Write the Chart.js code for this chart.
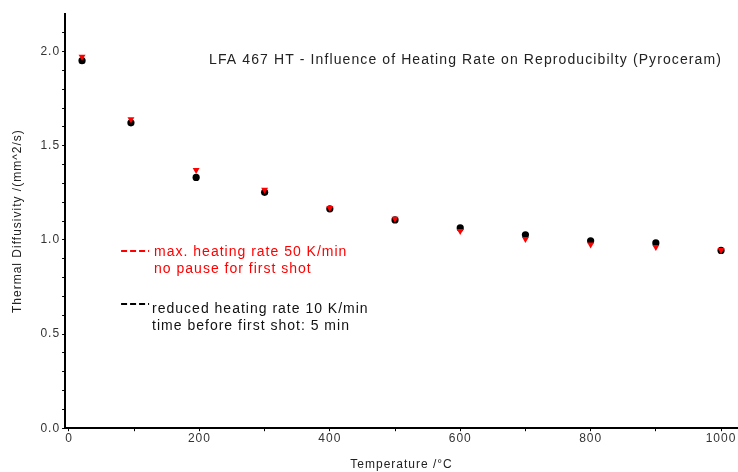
<!DOCTYPE html>
<html>
<head>
<meta charset="utf-8">
<script src="https://cdn.jsdelivr.net/npm/chart.js@4"></script>
<style>
  html, body { margin: 0; padding: 0; background: #fff; }
  #wrap { width: 738px; height: 472px; }
</style>
</head>
<body>
<div id="wrap"><canvas id="chart" width="738" height="472"></canvas></div>
<script>
// Temperature points /°C
const temps = [20, 95, 195, 300, 400, 500, 600, 700, 800, 900, 1000];
// max. heating rate 50 K/min, no pause for first shot
const fastRate = [1.973, 1.641, 1.372, 1.266, 1.170, 1.112, 1.048, 1.005, 0.976, 0.963, 0.947];
// reduced heating rate 10 K/min, 5 min before first shot
const slowRate = [1.952, 1.622, 1.332, 1.253, 1.165, 1.106, 1.064, 1.027, 0.995, 0.984, 0.944];

const xTicks = [0, 100, 200, 300, 400, 500, 600, 700, 800, 900, 1000];
const xLabels = [0, 200, 400, 600, 800, 1000];
const yTicks = [0, 0.1, 0.2, 0.3, 0.4, 0.5, 0.6, 0.7, 0.8, 0.9, 1.0, 1.1, 1.2, 1.3, 1.4, 1.5, 1.6, 1.7, 1.8, 1.9, 2.0, 2.1];
const yLabels = [0, 0.5, 1.0, 1.5, 2.0];

const titleText = 'LFA 467 HT - Influence of Heating Rate on Reproducibilty (Pyroceram)';
const legendItems = [
    { color: '#ff0000', lines: ['max. heating rate 50 K/min', 'no pause for first shot'] },
    { color: '#000000', lines: ['reduced heating rate 10 K/min', 'time before first shot: 5 min'] }
];

const FONT = '"Liberation Sans", Arial, sans-serif';

// the original was rendered with wide GDI text, so space the letters a bit
const spacingPlugin = {
    id: 'spacing',
    beforeLayout(chart) { chart.ctx.letterSpacing = '1px'; },
    beforeDraw(chart) { chart.ctx.letterSpacing = '1px'; }
};

// draws the title and the in-plot legend
const annotatePlugin = {
    id: 'annotate',
    afterDraw(chart) {
        const ctx = chart.ctx;
        const area = chart.chartArea;
        ctx.save();
        ctx.letterSpacing = '1.1px';
        ctx.font = '14px ' + FONT;
        ctx.fillStyle = '#222';
        ctx.textAlign = 'right';
        ctx.textBaseline = 'middle';
        ctx.fillText(titleText, area.right - 16, area.top + 46);

        ctx.letterSpacing = '1px';
        ctx.textAlign = 'left';
        legendItems.forEach((item, i) => {
            const y0 = area.top + 238 + i * 57;
            ctx.strokeStyle = item.color;
            ctx.lineWidth = 2;
            ctx.setLineDash([6, 3]);
            ctx.beginPath();
            ctx.moveTo(area.left + 56, y0 - 1 - i * 4);
            ctx.lineTo(area.left + 84, y0 - 1 - i * 4);
            ctx.stroke();
            ctx.setLineDash([]);
            ctx.fillStyle = item.color === '#000000' ? '#111' : item.color;
            item.lines.forEach((line, j) => {
                ctx.fillText(line, area.left + 89 - i * 2, y0 + j * 17);
            });
        });
        ctx.restore();
    }
};

new Chart(document.getElementById('chart'), {
    type: 'scatter',
    data: {
        datasets: [{
            label: legendItems[0].lines[0],
            data: temps.map((t, i) => ({ x: t, y: fastRate[i] })),
            pointStyle: 'triangle',
            rotation: 180,
            radius: 4,
            backgroundColor: '#ff0000',
            borderColor: '#ff0000',
            borderWidth: 0
        }, {
            label: legendItems[1].lines[0],
            data: temps.map((t, i) => ({ x: t, y: slowRate[i] })),
            pointStyle: 'circle',
            radius: 3.6,
            backgroundColor: '#000000',
            borderColor: '#000000',
            borderWidth: 0
        }]
    },
    plugins: [spacingPlugin, annotatePlugin],
    options: {
        responsive: false,
        animation: false,
        layout: { autoPadding: false, padding: { top: 14, right: 0, left: 10, bottom: 0 } },
        plugins: {
            legend: { display: false },
            tooltip: { enabled: false }
        },
        scales: {
            x: {
                type: 'linear',
                min: -6,
                max: 1026,
                afterBuildTicks: (scale) => { scale.ticks = xTicks.map(v => ({ value: v })); },
                afterFit: (scale) => { scale.paddingRight = 0; },
                ticks: {
                    autoSkip: false,
                    maxRotation: 0,
                    color: '#333',
                    font: { family: FONT, size: 12 },
                    padding: 0,
                    callback: (v) => xLabels.includes(v) ? String(v) : ''
                },
                grid: { drawOnChartArea: false, drawTicks: true, tickLength: 3, color: '#000', lineWidth: 1 },
                border: { color: '#000', width: 2 },
                title: {
                    display: true,
                    text: 'Temperature /°C',
                    color: '#222',
                    font: { family: FONT, size: 12 },
                    padding: { top: 12, bottom: 0 }
                }
            },
            y: {
                min: 0,
                max: 2.2,
                afterBuildTicks: (scale) => { scale.ticks = yTicks.map(v => ({ value: v })); },
                ticks: {
                    autoSkip: false,
                    color: '#333',
                    font: { family: FONT, size: 12 },
                    padding: 2,
                    callback: (v) => yLabels.some(l => Math.abs(l - v) < 1e-6) ? v.toFixed(1) : ''
                },
                grid: { drawOnChartArea: false, drawTicks: true, tickLength: 3, color: '#000', lineWidth: 1 },
                border: { color: '#000', width: 2 },
                title: {
                    display: true,
                    text: 'Thermal Diffusivity /(mm^2/s)',
                    color: '#222',
                    font: { family: FONT, size: 12 },
                    padding: { top: 0, bottom: 14 }
                }
            }
        }
    }
});
</script>
</body>
</html>
